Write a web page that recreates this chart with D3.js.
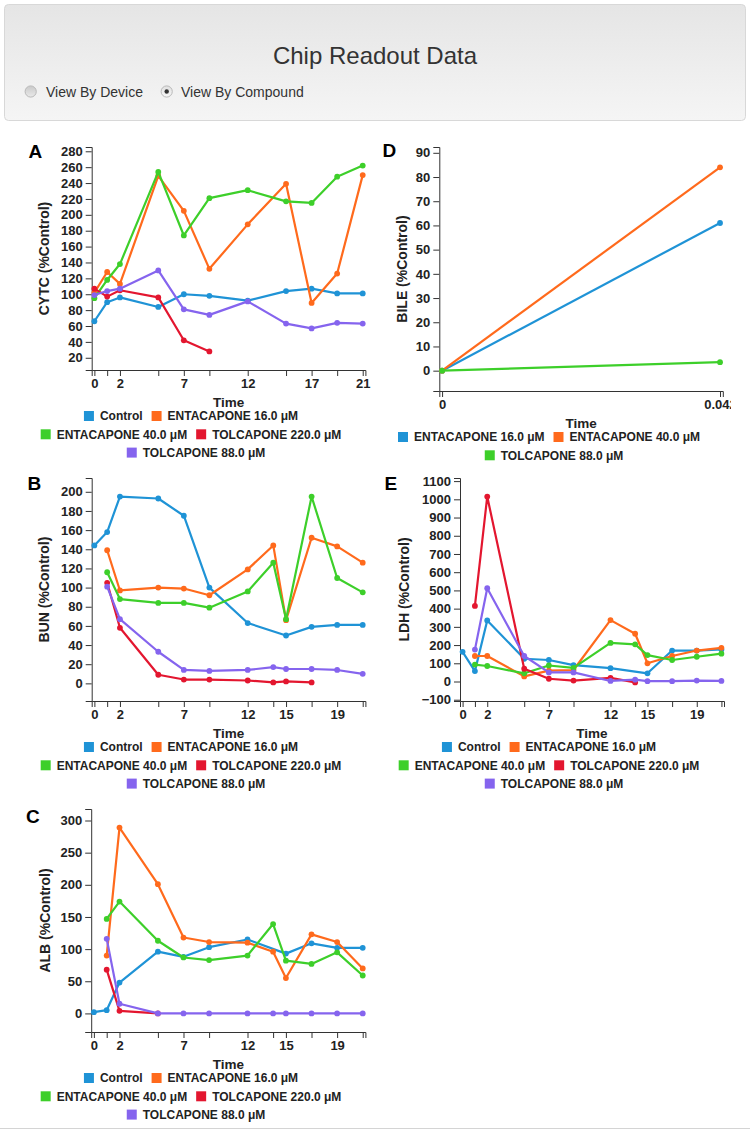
<!DOCTYPE html>
<html>
<head>
<meta charset="utf-8">
<script src="https://cdn.jsdelivr.net/npm/d3@7"></script>
<style>
  html, body { margin: 0; padding: 0; background: #fff; }
  svg { display: block; font-family: "Liberation Sans", Arial, Helvetica, sans-serif; }
</style>
</head>
<body>
<script>
// ---------------- DATA ----------------
const seriesLabels = ["Control", "ENTACAPONE 16.0 μM", "ENTACAPONE 40.0 μM", "TOLCAPONE 220.0 μM", "TOLCAPONE 88.0 μM"];
const seriesColors = ["#1f93d6", "#ff6a1c", "#3dcf2a", "#e3162f", "#8564ee"];

// A - CYTC
const cytcDays      = [0, 1, 2, 5, 7, 9, 12, 15, 17, 19, 21];
const cytcControl   = [66, 90, 96, 84, 100, 98, 92, 104, 107, 101, 101];
const cytcEnta16    = [102, 128, 113, 249, 205, 132, 188, 239, 89, 126, 250];
const cytcEnta40    = [95, 118, 138, 254, 174, 221, 231, 217, 215, 248, 262];
const cytcTolca220  = [107, 97, 105, 96, 42, 28, null, null, null, null, null];
const cytcTolca88   = [99, 104, 107, 130, 81, 74, 91, 63, 57, 64, 63];
const cytcYTicks    = [20, 40, 60, 80, 100, 120, 140, 160, 180, 200, 220, 240, 260, 280];

// B - BUN
const bunDays       = [0, 1, 2, 5, 7, 9, 12, 14, 15, 17, 19, 21];
const bunControl    = [144, 158, 195, 193, 175, 100, 63, null, 50, 59, 61, 61];
const bunEnta16     = [null, 139, 97, 100, 99, 92, 119, 144, 66, 152, 143, 126];
const bunEnta40     = [null, 116, 88, 84, 84, 79, 96, 126, 67, 195, 110, 95];
const bunTolca220   = [null, 105, 58, 9, 4, 4, 3, 1, 2, 1, null, null];
const bunTolca88    = [null, 101, 67, 33, 14, 13, 14, 17, 15, 15, 14, 10];
const bunYTicks     = [0, 20, 40, 60, 80, 100, 120, 140, 160, 180, 200];

// C - ALB
const albDays       = [0, 1, 2, 5, 7, 9, 12, 14, 15, 17, 19, 21];
const albControl    = [2, 5, 48, 96, 88, 103, 115, null, 93, 109, 102, 102];
const albEnta16     = [null, 90, 289, 201, 118, 111, 110, 96, 55, 123, 111, 70];
const albEnta40     = [null, 147, 174, 113, 87, 83, 90, 139, 82, 77, 95, 59];
const albTolca220   = [null, 68, 4, 0, null, null, null, null, null, null, null, null];
const albTolca88    = [null, 116, 15, 0, 0, 0, 0, 0, 0, 0, 0, 0];
const albYTicks     = [0, 50, 100, 150, 200, 250, 300];

// D - BILE
const bileTimes     = [0, 0.0417];
const bileTimeLabels = ["0", "0.042"];
const bileLabels    = ["ENTACAPONE 16.0 μM", "ENTACAPONE 40.0 μM", "TOLCAPONE 88.0 μM"];
const bileEnta16    = [0, 61];
const bileEnta40    = [0, 84];
const bileTolca88   = [0, 3.5];
const bileYTicks    = [0, 10, 20, 30, 40, 50, 60, 70, 80, 90];

// E - LDH
const ldhDays       = [0, 1, 2, 5, 7, 9, 12, 14, 15, 17, 19, 21];
const ldhControl    = [163, 57, 335, 125, 118, 90, 73, null, 45, 170, 170, 176];
const ldhEnta16     = [null, 140, 140, 28, 60, 63, 337, 262, 100, 140, 170, 185];
const ldhEnta40     = [null, 93, 85, 45, 88, 75, 212, 204, 145, 118, 136, 153];
const ldhTolca220   = [null, 415, 1015, 70, 15, 5, 20, -5, null, null, null, null];
const ldhTolca88    = [null, 175, 512, 140, 50, 50, 3, 10, 2, 2, 5, 3];
const ldhYTicks     = [-100, 0, 100, 200, 300, 400, 500, 600, 700, 800, 900, 1000, 1100];

// ---------------- PAGE ----------------
const FONT = '"Liberation Sans", Arial, Helvetica, sans-serif';
const svg = d3.select("body").append("svg").attr("width", 750).attr("height", 1133);
const defs = svg.append("defs");

const wg = defs.append("linearGradient").attr("id", "wellGrad").attr("x1", 0).attr("y1", 0).attr("x2", 0).attr("y2", 1);
wg.append("stop").attr("offset", "0%").attr("stop-color", "#e5e5e5");
wg.append("stop").attr("offset", "100%").attr("stop-color", "#f5f5f5");
const rg = defs.append("linearGradient").attr("id", "radioOff").attr("x1", 0).attr("y1", 0).attr("x2", 0).attr("y2", 1);
rg.append("stop").attr("offset", "0%").attr("stop-color", "#c9c9c9");
rg.append("stop").attr("offset", "100%").attr("stop-color", "#e9e9e9");
const rg2 = defs.append("linearGradient").attr("id", "radioOn").attr("x1", 0).attr("y1", 0).attr("x2", 0).attr("y2", 1);
rg2.append("stop").attr("offset", "0%").attr("stop-color", "#e0e0e0");
rg2.append("stop").attr("offset", "100%").attr("stop-color", "#f7f7f7");

svg.append("rect").attr("x", 4.5).attr("y", 4.5).attr("width", 741).attr("height", 116).attr("rx", 4)
  .attr("fill", "url(#wellGrad)").attr("stroke", "#d8d8d8");
svg.append("text").attr("x", 375).attr("y", 64).attr("text-anchor", "middle")
  .style("font-family", FONT).style("font-size", "24px").attr("fill", "#333").text("Chip Readout Data");

svg.append("circle").attr("cx", 30.7).attr("cy", 91.5).attr("r", 5.6).attr("fill", "url(#radioOff)").attr("stroke", "#b9b9b9");
svg.append("text").attr("x", 46).attr("y", 96.5).style("font-family", FONT).style("font-size", "14px").attr("fill", "#333").text("View By Device");
svg.append("circle").attr("cx", 166.7).attr("cy", 91.5).attr("r", 5.6).attr("fill", "url(#radioOn)").attr("stroke", "#b9b9b9");
svg.append("circle").attr("cx", 166.7).attr("cy", 91.5).attr("r", 2.2).attr("fill", "#333");
svg.append("text").attr("x", 181).attr("y", 96.5).style("font-family", FONT).style("font-size", "14px").attr("fill", "#333").text("View By Compound");

// bottom page edge line
svg.append("line").attr("x1", 0).attr("x2", 750).attr("y1", 1128.5).attr("y2", 1128.5).attr("stroke", "#d4d4d4");

// ---------------- PANELS ----------------
const panels = [
  { id: "A", xs: cytcDays, xLabels: cytcDays.map(String), series: [cytcControl, cytcEnta16, cytcEnta40, cytcTolca220, cytcTolca88],
    labels: seriesLabels, colors: seriesColors, yTicks: cytcYTicks, yTitle: "CYTC (%Control)",
    svgX: 22, plot: { x0: 91.7, x1: 365.4, y0: 147, y1: 370 }, letter: { x: 28.5, y: 158 }, yTitleX: 44 },
  { id: "B", xs: bunDays, xLabels: bunDays.map(String), series: [bunControl, bunEnta16, bunEnta40, bunTolca220, bunTolca88],
    labels: seriesLabels, colors: seriesColors, yTicks: bunYTicks, yTitle: "BUN (%Control)",
    svgX: 22, plot: { x0: 91.7, x1: 365.4, y0: 478, y1: 701 }, letter: { x: 27.5, y: 489.5 }, yTitleX: 44 },
  { id: "C", xs: albDays, xLabels: albDays.map(String), series: [albControl, albEnta16, albEnta40, albTolca220, albTolca88],
    labels: seriesLabels, colors: seriesColors, yTicks: albYTicks, yTitle: "ALB (%Control)",
    svgX: 22, plot: { x0: 91.2, x1: 365.4, y0: 809, y1: 1032 }, letter: { x: 26, y: 823 }, yTitleX: 45 },
  { id: "D", xs: bileTimes, xLabels: bileTimeLabels, series: [bileEnta16, bileEnta40, bileTolca88],
    labels: bileLabels, colors: seriesColors.slice(0, 3), yTicks: bileYTicks, yTitle: "BILE (%Control)",
    svgX: 380, plot: { x0: 439.3, x1: 722.8, y0: 147, y1: 391 }, letter: { x: 382.5, y: 157 }, yTitleX: 402 },
  { id: "E", xs: ldhDays, xLabels: ldhDays.map(String), series: [ldhControl, ldhEnta16, ldhEnta40, ldhTolca220, ldhTolca88],
    labels: seriesLabels, colors: seriesColors, yTicks: ldhYTicks, yTitle: "LDH (%Control)",
    svgX: 380, plot: { x0: 460, x1: 724, y0: 478, y1: 701 }, letter: { x: 384.5, y: 489.5 }, yTitleX: 404 }
];

const SVG_W = 351;

function styleAxis(ax) {
  ax.select(".domain").attr("stroke", "#333").attr("stroke-width", 1);
  ax.selectAll(".tick line").attr("stroke", "#333");
  ax.selectAll(".tick text").style("font-family", FONT).style("font-size", "13px")
    .style("font-weight", "bold").attr("fill", "#222");
  ax.attr("font-family", null).attr("font-size", null);
}

function drawPanel(p) {
  defs.append("clipPath").attr("id", "clip" + p.id).append("rect")
    .attr("x", p.svgX).attr("y", 130).attr("width", SVG_W).attr("height", 995);
  const g = svg.append("g").attr("clip-path", `url(#clip${p.id})`);

  const allVals = p.series.flat().filter(v => v != null);
  const mn = d3.min(allVals), mx = d3.max(allVals), dy = mx - mn;
  const y = d3.scaleLinear().domain([mn - 0.1 * dy, mx + 0.1 * dy]).range([p.plot.y1, p.plot.y0]);
  const xmn = d3.min(p.xs), xmx = d3.max(p.xs), dx = xmx - xmn;
  const x = d3.scaleLinear().domain([xmn - 0.01 * dx, xmx + 0.01 * dx]).range([p.plot.x0, p.plot.x1]);

  const cull = Math.ceil(p.xs.length / 10);
  const xAxis = d3.axisBottom(x).tickValues(p.xs)
    .tickFormat((d, i) => (i % cull === 0 ? p.xLabels[i] : "")).tickSizeInner(6).tickSizeOuter(6);
  const yAxis = d3.axisLeft(y).tickValues(p.yTicks).tickFormat(d3.format("d")).tickSizeInner(6).tickSizeOuter(6);

  const gx = g.append("g").attr("transform", `translate(0,${p.plot.y1})`).call(xAxis);
  styleAxis(gx);
  const gy = g.append("g").attr("transform", `translate(${p.plot.x0},0)`).call(yAxis);
  styleAxis(gy);

  // series
  const line = d3.line().x(d => x(d[0])).y(d => y(d[1]));
  p.series.forEach((vals, si) => {
    const pts = p.xs.map((t, i) => [t, vals[i]]).filter(d => d[1] != null);
    const sg = g.append("g");
    sg.append("path").datum(pts).attr("d", line).attr("fill", "none")
      .attr("stroke", p.colors[si]).attr("stroke-width", 2.2).attr("stroke-linejoin", "round");
    sg.selectAll("circle").data(pts).join("circle")
      .attr("cx", d => x(d[0])).attr("cy", d => y(d[1])).attr("r", 2.9).attr("fill", p.colors[si]);
  });

  // titles
  const midX = (p.plot.x0 + p.plot.x1) / 2, midY = (p.plot.y0 + p.plot.y1) / 2;
  g.append("text").attr("transform", `translate(${p.yTitleX},${midY}) rotate(-90)`).attr("dy", "0.35em")
    .attr("text-anchor", "middle").style("font-family", FONT).style("font-size", "14px")
    .style("font-weight", "bold").attr("fill", "#222").text(p.yTitle);
  g.append("text").attr("x", midX).attr("y", p.plot.y1 + 36.5).attr("text-anchor", "middle")
    .style("font-family", FONT).style("font-size", "13.5px").style("font-weight", "bold")
    .attr("fill", "#222").text("Time");

  // letter
  svg.append("text").attr("x", p.letter.x).attr("y", p.letter.y).style("font-family", FONT)
    .style("font-size", "19px").style("font-weight", "bold").attr("fill", "#000").text(p.id);

  // legend (C3-like layout)
  const lg = g.append("g");
  const texts = p.labels.map(l => lg.append("text").style("font-family", FONT).style("font-size", "12px")
    .style("font-weight", "bold").attr("fill", "#222").text(l));
  const widths = texts.map(t => t.node().getComputedTextLength());
  const paddingRight = 10, tileWidth = 15, posMin = 10;
  let step = 0, total = 0; const margins = [], offsets = [], steps = [];
  p.labels.forEach((l, i) => {
    const isLast = i === p.labels.length - 1;
    const itemLen = widths[i] + tileWidth + (isLast ? 0 : paddingRight);
    let margin = (SVG_W - total - itemLen) / 2;
    if (margin < posMin) { margin = (SVG_W - itemLen) / 2; total = 0; step++; }
    steps[i] = step; margins[step] = margin; offsets[i] = total; total += itemLen;
  });
  const rowY0 = p.plot.y1 + 46;
  p.labels.forEach((l, i) => {
    const lx = p.svgX + margins[steps[i]] + offsets[i];
    const ly = rowY0 + steps[i] * 18.3;
    lg.append("line").attr("x1", lx - 2).attr("x2", lx + 8).attr("y1", ly).attr("y2", ly)
      .attr("stroke", p.colors[i]).attr("stroke-width", 10);
    texts[i].attr("x", lx + 14).attr("y", ly + 4.3);
  });
}

panels.forEach(drawPanel);
</script>
</body>
</html>
